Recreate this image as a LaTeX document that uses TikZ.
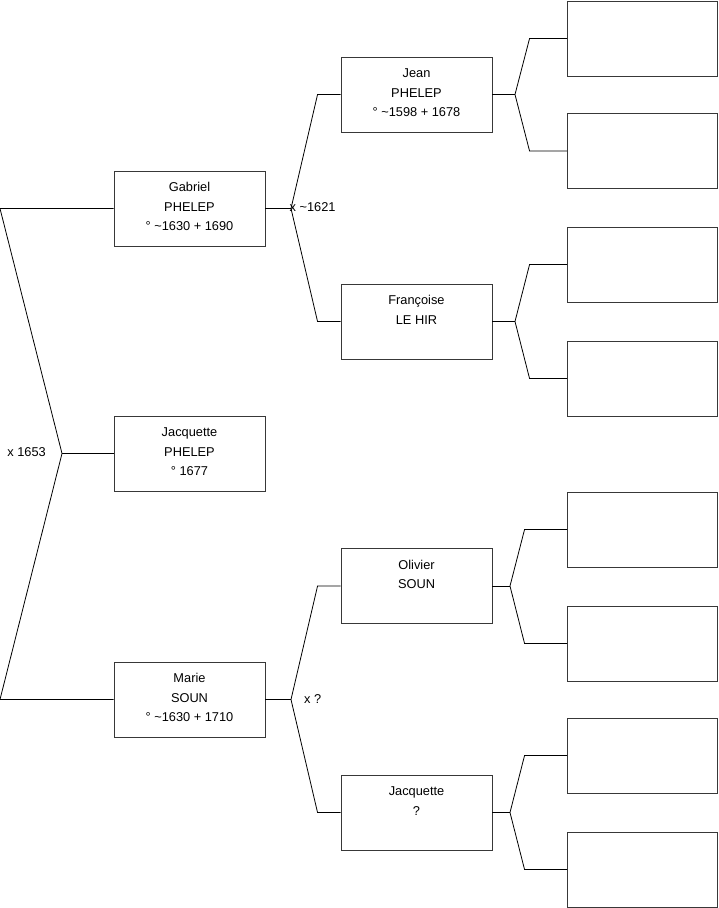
\documentclass[tikz,border=0pt]{standalone}
\usepackage{fontspec}
\setmainfont{Liberation Sans}
\newcommand{\fst}{\rule{0pt}{10pt}}
\begin{document}
\begin{tikzpicture}[x=1pt,y=-1pt,
  personbox/.style={draw=black!78,line width=0.9pt,minimum width=151pt,minimum height=75pt,inner sep=0pt},
  emptybox/.style={draw=black!78,line width=0.9pt,minimum width=150pt,minimum height=75pt,inner sep=0pt},
  boxtext/.style={anchor=north,inner sep=0pt,align=center,font=\fontsize{12.8}{19.5}\selectfont},
  marr/.style={inner sep=0pt,font=\fontsize{12.8}{15}\selectfont},
  link/.style={draw=black,line width=0.8pt}]
\useasboundingbox (0,0) rectangle (719,908);
% generation 1
\node[personbox] (gab) at (189.5,208.5) {};
\node[personbox] (jacq) at (189.5,453.5) {};
\node[personbox] (marie) at (189.5,699.5) {};
% generation 2
\node[personbox] (jean) at (416.5,94.5) {};
\node[personbox] (fran) at (416.5,321.5) {};
\node[personbox] (oliv) at (416.5,586) {};
\node[personbox] (jacq2) at (416.5,812.5) {};
% generation 3
\node[emptybox] (e1) at (642.5,38.5) {};
\node[emptybox] (e2) at (642.5,151) {};
\node[emptybox] (e3) at (642.5,264.5) {};
\node[emptybox] (e4) at (642.5,378.5) {};
\node[emptybox] (e5) at (642.5,529.5) {};
\node[emptybox] (e6) at (642.5,643.5) {};
\node[emptybox] (e7) at (642.5,755.5) {};
\node[emptybox] (e8) at (642.5,869.5) {};
% texts
\node[boxtext] (tgab) at ([yshift=-11pt]gab.north) {\fst Gabriel\\PHELEP\\° \textasciitilde 1630 + 1690};
\node[boxtext] (tjacq) at ([yshift=-11pt]jacq.north) {\fst Jacquette\\PHELEP\\° 1677};
\node[boxtext] (tmarie) at ([yshift=-11pt]marie.north) {\fst Marie\\SOUN\\° \textasciitilde 1630 + 1710};
\node[boxtext] (tjean) at ([yshift=-11pt]jean.north) {\fst Jean\\PHELEP\\° \textasciitilde 1598 + 1678};
\node[boxtext] (tfran) at ([yshift=-11pt]fran.north) {\fst Françoise\\LE HIR};
\node[boxtext] (toliv) at ([yshift=-11pt]oliv.north) {\fst Olivier\\SOUN};
\node[boxtext] (tjacq2) at ([yshift=-11pt]jacq2.north) {\fst Jacquette\\?};
% root connector
\coordinate (r1) at (0,208.5);
\coordinate (rv) at (62,453.5);
\coordinate (r2) at (0,699.5);
\draw[link] (gab.west) -- (r1) -- (rv) -- (r2) -- (marie.west);
\draw[link] (rv) -- (jacq.west);
\node[marr,anchor=base east] (m0) at (46,456) {x 1653};
% Gabriel's parents
\coordinate (v1) at (291,208.5);
\draw[link] (gab.east) -- (v1);
\draw[link] (jean.west) -- ([xshift=-23pt]jean.west) -- (v1) -- ([xshift=-23pt]fran.west) -- (fran.west);
\node[marr,anchor=base west] (m1) at (289.5,211.5) {x \textasciitilde 1621};
% Marie's parents
\coordinate (v2) at (291,699.5);
\draw[link] (marie.east) -- (v2);
\draw[link] (oliv.west) -- ([xshift=-23pt]oliv.west) -- (v2) -- ([xshift=-23pt]jacq2.west) -- (jacq2.west);
\node[marr,anchor=base west] (m2) at (304,703) {x ?};
% generation 2 to 3
\coordinate (v3) at (515,94.5);
\draw[link] (jean.east) -- (v3);
\draw[link] (e1.west) -- ([xshift=-37.5pt]e1.west) -- (v3) -- ([xshift=-37.5pt]e2.west) -- (e2.west);
\coordinate (v4) at (515,321.5);
\draw[link] (fran.east) -- (v4);
\draw[link] (e3.west) -- ([xshift=-37.5pt]e3.west) -- (v4) -- ([xshift=-37.5pt]e4.west) -- (e4.west);
\coordinate (v5) at (510,586);
\draw[link] (oliv.east) -- (v5);
\draw[link] (e5.west) -- ([xshift=-42.5pt]e5.west) -- (v5) -- ([xshift=-42.5pt]e6.west) -- (e6.west);
\coordinate (v6) at (510,812.5);
\draw[link] (jacq2.east) -- (v6);
\draw[link] (e7.west) -- ([xshift=-42.5pt]e7.west) -- (v6) -- ([xshift=-42.5pt]e8.west) -- (e8.west);
\end{tikzpicture}
\end{document}
